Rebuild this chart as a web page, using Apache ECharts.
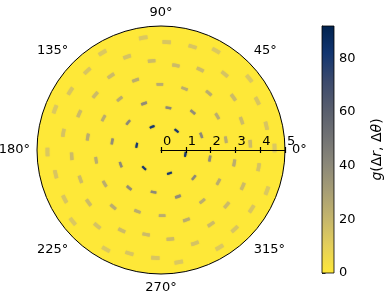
<!DOCTYPE html>
<html>
<head>
<meta charset="utf-8">
<script src="https://cdn.jsdelivr.net/npm/echarts@6/dist/echarts.min.js"></script>
<style>html,body{margin:0;padding:0;background:#fff}#c{width:390px;height:301px}</style>
</head>
<body>
<div id="c"></div>
<script>
// ---- data ----
const radialTicks = [0, 1, 2, 3, 4, 5];
const angleTicks = [0, 45, 90, 135, 180, 225, 270, 315];
const colorbarTicks = [0, 20, 40, 60, 80];
const gMax = 92;
// peak shells: radius (in Δr units), angles of the dashes (deg), peak value of g
const shellRadius = [1.0, 1.73, 2.0, 2.65, 3.0, 3.46, 3.61, 4.0, 4.36, 4.58];
const shellAngles = [
  [51, 111, 169, 227, 290, 350],
  [20, 80, 140, 200, 260, 320],
  [50, 110, 170, 230, 290, 350],
  [9, 31, 69, 91, 129, 151, 189, 211, 249, 271, 309, 331],
  [50, 110, 170, 230, 290, 350],
  [20, 80, 140, 200, 260, 320],
  [4, 36, 64, 96, 124, 156, 184, 216, 244, 276, 304, 336],
  [50, 110, 170, 230, 290, 350],
  [13, 27, 73, 87, 133, 147, 193, 207, 253, 267, 313, 327],
  [1, 39, 61, 99, 121, 159, 181, 219, 241, 279, 301, 339]
];
const shellG = [80, 40, 38, 24, 24, 18, 18, 15, 14, 13];
const backgroundG = 0;

// ---- build series data ----
const dashData = [];
shellRadius.forEach((r, i) => {
  shellAngles[i].forEach(a => dashData.push([r, a, shellG[i]]));
});

const cividisR = ['#fee838', '#e4cf5b', '#c4b56c', '#a69d75', '#8a8779',
                  '#707173', '#575d6d', '#3b496c', '#123570', '#00224e'];

const chart = echarts.init(document.getElementById('c'), null, {renderer: 'canvas'});
const font = 'DejaVu Sans';

function renderBg(params, api) {
  const c = api.coord([0, 0]);
  const e = api.coord([api.value(0), 0]);
  const R = Math.hypot(e[0] - c[0], e[1] - c[1]);
  return {type: 'circle', shape: {cx: c[0], cy: c[1], r: R}, style: {fill: api.visual('color')}};
}
function renderDash(params, api) {
  const r = api.value(0), th = api.value(1);
  const c = api.coord([0, 0]);
  const e = api.coord([r, 0]);
  const rpx = Math.hypot(e[0] - c[0], e[1] - c[1]);
  const unit = rpx / r;
  const halfAng = (0.08 + 0.02 * r) / r;
  const halfTh = (0.03 + 0.01 * r) * unit;
  const a = -th * Math.PI / 180;
  return {
    type: 'sector',
    shape: {cx: c[0], cy: c[1], r0: rpx - halfTh, r: rpx + halfTh, startAngle: a - halfAng, endAngle: a + halfAng},
    style: {fill: api.visual('color'), shadowBlur: 1.2, shadowColor: api.visual('color')}
  };
}
function renderBar(params, api) {
  const p0 = api.coord([0, api.value(0)]);
  const p1 = api.coord([1, api.value(1)]);
  const stops = cividisR.map((col, i) => ({offset: i / (cividisR.length - 1), color: col}));
  return {
    type: 'rect',
    shape: {x: p0[0], y: p1[1], width: p1[0] - p0[0], height: p0[1] - p1[1]},
    style: {fill: new echarts.graphic.LinearGradient(0, 1, 0, 0, stops), stroke: '#000', lineWidth: 0.8}
  };
}

const option = {
  animation: false,
  backgroundColor: '#fff',
  polar: [
    {center: [161, 150], radius: 124},
    {center: [161, 150], radius: 124}
  ],
  angleAxis: [
    {
      polarIndex: 0, type: 'value', min: 0, max: 360, interval: 45, startAngle: 0, clockwise: false, z: 10,
      axisLine: {lineStyle: {color: '#000', width: 1}},
      axisTick: {show: false},
      splitLine: {show: false},
      axisLabel: {color: '#000', fontFamily: font, fontSize: 13, margin: 7,
        formatter: v => angleTicks.indexOf(v) >= 0 ? v + '°' : ''}
    },
    {polarIndex: 1, type: 'value', min: 0, max: 360, startAngle: 0, clockwise: false, show: false}
  ],
  radiusAxis: [
    {
      polarIndex: 0, type: 'value', min: 0, max: 5, interval: 1, z: 10,
      axisLine: {lineStyle: {color: '#000', width: 1.2}},
      axisTick: {length: 3, lineStyle: {color: '#000', width: 1.2}},
      splitLine: {show: false},
      axisLabel: {color: '#000', fontFamily: font, fontSize: 13, margin: 2, align: 'left', padding: [0, 0, 0, 2],
        formatter: v => radialTicks.indexOf(v) >= 0 ? String(v) : ''}
    },
    {
      polarIndex: 1, type: 'value', min: 0, max: 5, interval: 1, z: 10,
      axisLine: {show: false},
      axisTick: {length: -3, lineStyle: {color: '#000', width: 1.2}},
      splitLine: {show: false},
      axisLabel: {show: false}
    }
  ],
  grid: {left: 322, top: 26, width: 12, height: 247, show: false},
  xAxis: {type: 'value', min: 0, max: 1, show: false},
  yAxis: {
    type: 'value', position: 'right', min: 0, max: gMax, interval: 20,
    axisLine: {show: true, lineStyle: {color: '#000', width: 0.8}},
    axisTick: {show: true, length: 3.5, lineStyle: {color: '#000', width: 0.8}},
    minorTick: {show: true, splitNumber: 4, length: 2, lineStyle: {color: '#000', width: 0.6}},
    splitLine: {show: false},
    axisLabel: {color: '#000', fontFamily: font, fontSize: 13, margin: 5,
      formatter: v => colorbarTicks.indexOf(v) >= 0 ? String(v) : ''},
    name: '{i|g}{n|(Δ}{i|r}{n|, Δ}{i|θ}{n|)}',
    nameLocation: 'middle', nameGap: 36,
    nameTextStyle: {
      rich: {
        i: {fontFamily: font, fontStyle: 'italic', fontSize: 14, color: '#000'},
        n: {fontFamily: font, fontSize: 14, color: '#000'}
      }
    }
  },
  visualMap: {
    type: 'continuous', show: false, min: 0, max: gMax, dimension: 2, seriesIndex: [0, 1],
    inRange: {color: cividisR}
  },
  series: [
    {type: 'custom', coordinateSystem: 'polar', polarIndex: 0, renderItem: renderBg, data: [[5, 0, backgroundG]], z: 1, silent: true},
    {type: 'custom', coordinateSystem: 'polar', polarIndex: 0, renderItem: renderDash, data: dashData, z: 2, silent: true},
    {type: 'custom', coordinateSystem: 'cartesian2d', renderItem: renderBar, data: [[0, gMax]], z: 2, silent: true}
  ]
};
chart.setOption(option);
</script>
</body>
</html>
